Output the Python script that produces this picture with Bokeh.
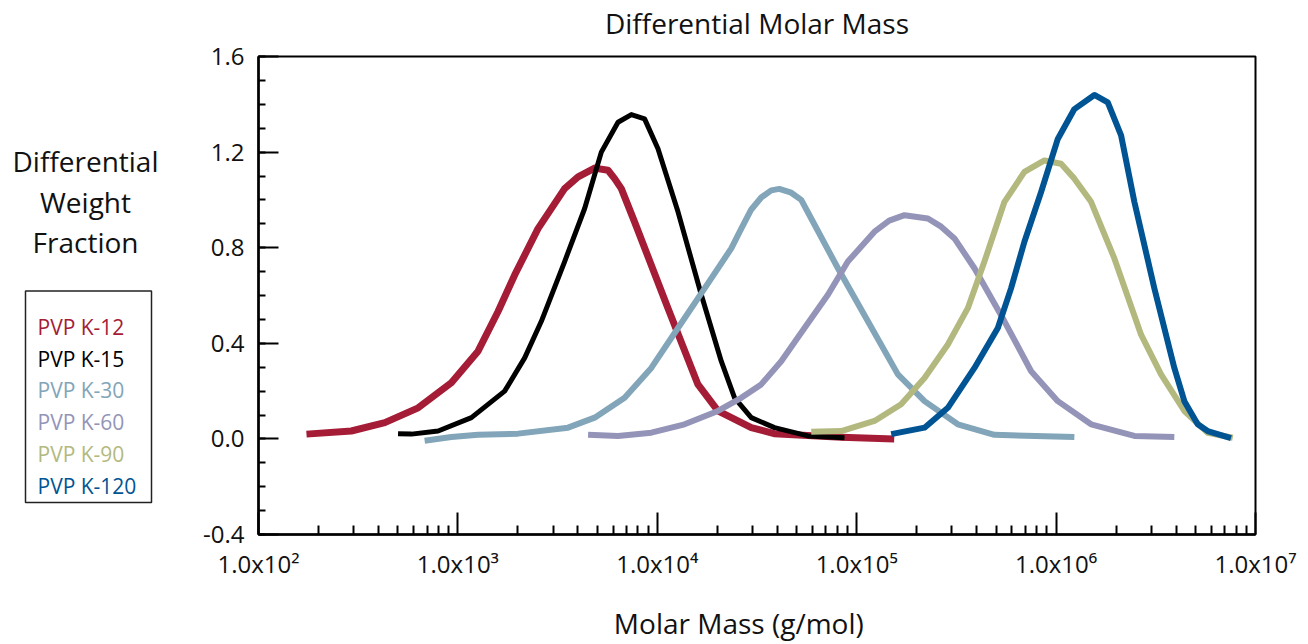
from bokeh.plotting import figure
from bokeh.models import Range1d, LogAxis, FixedTicker, SingleIntervalTicker, NumeralTickFormatter, ColumnDataSource
from bokeh.layouts import row
from bokeh.embed import file_html
from bokeh.resources import INLINE
from bokeh.core.properties import value

FONT = "Open Sans"

# ---------------- data ----------------
series_names = ["PVP K-12", "PVP K-15", "PVP K-30", "PVP K-60", "PVP K-90", "PVP K-120"]
series_colors = ["#A51C36", "#000000", "#82A5B9", "#9494B9", "#B3B97E", "#005494"]

k12_mass = [174, 292, 430, 632, 927, 1262, 1590, 1927, 2522, 3429, 4005, 4850, 5660, 6109, 6600, 7690,
            11310, 15990, 20150, 29600, 38560, 83600, 154200]
k12_frac = [0.020, 0.033, 0.068, 0.130, 0.235, 0.367, 0.533, 0.686, 0.880, 1.047, 1.096, 1.133, 1.124,
            1.089, 1.047, 0.908, 0.547, 0.228, 0.117, 0.047, 0.022, 0.007, 0.0]

k15_mass = [501, 585, 796, 1169, 1716, 2162, 2621, 3430, 4322, 5240, 6353, 7410, 8635, 10080,
            12700, 16620, 20930, 24410, 29600, 38700, 56930, 86880]
k15_frac = [0.022, 0.020, 0.033, 0.089, 0.200, 0.339, 0.492, 0.742, 0.964, 1.200, 1.325, 1.357,
            1.339, 1.214, 0.950, 0.603, 0.325, 0.172, 0.089, 0.047, 0.0125, 0.005]

k30_mass = [681, 927, 1262, 2003, 3567, 4850, 6857, 9330, 12700, 17270, 23500, 26370, 29600, 33200,
            37270, 40880, 46960, 52700, 59150, 80500, 113800, 160900, 218800, 321500, 490700, 1235000]
k30_frac = [-0.008, 0.008, 0.017, 0.022, 0.047, 0.089, 0.172, 0.297, 0.464, 0.630, 0.797, 0.880,
            0.960, 1.010, 1.040, 1.046, 1.030, 1.000, 0.922, 0.714, 0.492, 0.270, 0.158, 0.061, 0.017, 0.008]

k60_mass = [4496, 6353, 9330, 13700, 20150, 26370, 33200, 41840, 54730, 71720, 90300, 122800, 145500,
            173700, 227500, 265200, 309200, 389500, 550800, 749400, 1019700, 1497500, 2469000, 3917000]
k60_frac = [0.017, 0.0125, 0.026, 0.061, 0.117, 0.172, 0.228, 0.325, 0.464, 0.603, 0.742, 0.867, 0.913,
            0.936, 0.922, 0.888, 0.839, 0.714, 0.492, 0.283, 0.158, 0.061, 0.0125, 0.008]

k90_mass = [59150, 83600, 122800, 167100, 218800, 286500, 360800, 437100, 550800, 693500, 873600,
            1059000, 1235000, 1497500, 1960000, 2668000, 3360000, 4397000, 5757000, 7690000]
k90_frac = [0.030, 0.033, 0.075, 0.145, 0.255, 0.395, 0.547, 0.742, 0.992, 1.117, 1.165, 1.151,
            1.089, 0.992, 0.755, 0.436, 0.270, 0.117, 0.026, 0.005]

k120_mass = [148900, 218800, 286500, 389500, 510300, 594400, 693500, 841000, 1019700, 1235000,
             1556000, 1816000, 2118000, 2469000, 3110000, 3917000, 4397000, 5130000, 5757000, 7535000]
k120_frac = [0.020, 0.047, 0.130, 0.297, 0.464, 0.630, 0.825, 1.033, 1.255, 1.380, 1.439, 1.408,
             1.270, 0.992, 0.630, 0.297, 0.158, 0.061, 0.033, 0.003]

x_tick_values = [100, 1000, 10000, 100000, 1000000, 10000000]
x_tick_labels = ["1.0x10\u00b2", "1.0x10\u00b3", "1.0x10\u2074", "1.0x10\u2075", "1.0x10\u2076", "1.0x10\u2077"]

title_text = "Differential Molar Mass"
x_title = "Molar Mass (g/mol)"
y_title_lines = ["Differential", "Weight", "Fraction"]

series_mass = [k12_mass, k15_mass, k30_mass, k60_mass, k90_mass, k120_mass]
series_frac = [k12_frac, k15_frac, k30_frac, k60_frac, k90_frac, k120_frac]
series_widths = [7, 5, 6, 6, 6, 6]

# frame geometry (pixels in the page)
FL, FR, FT, FB = 258, 1255, 55, 534
LW = 180

# ---------------- left panel (y title + legend) ----------------
left = figure(width=LW, height=644, x_range=Range1d(0, LW), y_range=Range1d(FB, FT),
              output_backend="svg", toolbar_location=None, min_border=0,
              x_axis_location=None, y_axis_location=None)
left.grid.visible = False
left.outline_line_color = None

ysrc = ColumnDataSource(dict(x=[85] * 3, y=[160, 201, 241], t=y_title_lines))
left.text(x="x", y="y", text="t", source=ysrc, text_font=value(FONT), text_font_size="28px",
          text_align="center", text_baseline="alphabetic", text_color="#111111")

left.quad(left=25, right=151, top=290, bottom=502, fill_color=None, line_color="#222222", line_width=1.5)
lsrc = ColumnDataSource(dict(x=[37] * 6, y=[326 + 31.8 * i for i in range(6)],
                             t=series_names, c=series_colors))
left.text(x="x", y="y", text="t", text_color="c", source=lsrc, text_font=value(FONT),
          text_font_size="21px", text_align="left", text_baseline="alphabetic")

# ---------------- main plot ----------------
p = figure(width=1308 - LW, height=644, x_axis_type="log",
           x_range=Range1d(1e2, 1e7), y_range=Range1d(-0.4, 1.6),
           min_border_left=FL - LW, min_border_right=1308 - FR, min_border_top=FT,
           min_border_bottom=644 - FB, output_backend="svg", toolbar_location=None)
p.grid.visible = False
p.outline_line_color = "black"
p.outline_line_width = 2

for m, f, c, w in zip(series_mass, series_frac, series_colors, series_widths):
    p.line(m, f, line_color=c, line_width=w, line_join="round")

minor = [k * 10 ** e for e in range(2, 7) for k in range(2, 10)]
p.xaxis.ticker = FixedTicker(ticks=x_tick_values, minor_ticks=minor)
p.xaxis.major_label_overrides = {v: s for v, s in zip(x_tick_values, x_tick_labels)}
p.yaxis.ticker = SingleIntervalTicker(interval=0.4, num_minor_ticks=4)
p.yaxis.formatter = NumeralTickFormatter(format="0.0")

for ax in (p.xaxis[0], p.yaxis[0]):
    ax.axis_line_width = 2.5
    ax.axis_line_color = "black"
    ax.major_tick_line_width = 2
    ax.minor_tick_line_width = 2
    ax.major_tick_out = 0
    ax.minor_tick_out = 0
    ax.major_label_text_font = FONT
    ax.major_label_text_font_size = "24px"
    ax.major_label_text_color = "#111111"

p.xaxis.major_tick_in = 22
p.xaxis.minor_tick_in = 9
p.xaxis.major_label_standoff = 12
p.yaxis.major_tick_in = 20
p.yaxis.minor_tick_in = 7
p.yaxis.major_label_standoff = 14

# x title (trailing no-break spaces shift the centred text slightly left, as in the original)
p.xaxis.axis_label = x_title + "\u00a0" * 5
p.xaxis.axis_label_text_font = FONT
p.xaxis.axis_label_text_font_size = "28px"
p.xaxis.axis_label_text_font_style = "normal"
p.xaxis.axis_label_text_color = "#111111"
p.xaxis.axis_label_standoff = 21

# chart title as the label of a bare axis above the frame
top_ax = LogAxis(ticker=FixedTicker(ticks=[]), axis_label=title_text, axis_line_color=None,
                 major_tick_in=0, major_tick_out=0, minor_tick_in=0, minor_tick_out=0,
                 axis_label_text_font=FONT, axis_label_text_font_size="28px",
                 axis_label_text_font_style="normal", axis_label_text_color="#111111",
                 axis_label_standoff=15)
p.add_layout(top_ax, "above")

layout = row(left, p, spacing=0)
open("out.html", "w").write(file_html(layout, INLINE))
